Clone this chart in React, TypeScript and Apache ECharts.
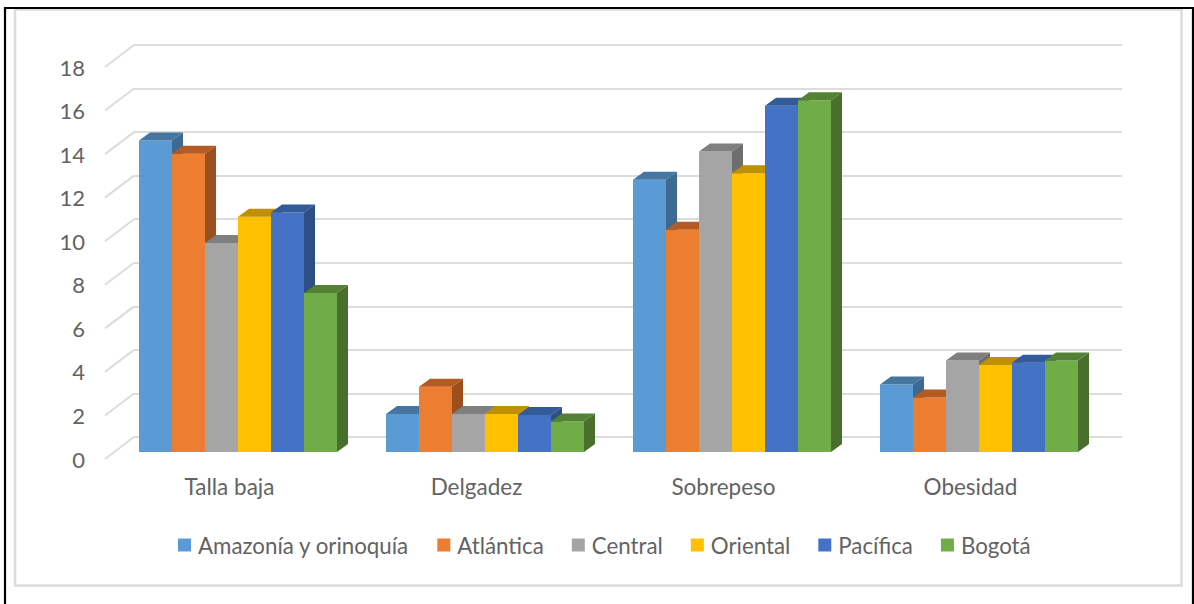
import React, { useEffect, useRef } from "react";
import * as echarts from "echarts";

const categories = ["Talla baja", "Delgadez", "Sobrepeso", "Obesidad"];
const amazonia = [14.3, 1.75, 12.5, 3.1];
const atlantica = [13.7, 3.0, 10.2, 2.5];
const central = [9.6, 1.75, 13.8, 4.2];
const oriental = [10.8, 1.75, 12.8, 4.0];
const pacifica = [11.0, 1.7, 15.9, 4.1];
const bogota = [7.3, 1.4, 16.15, 4.2];
const seriesNames = ["Amazonía y orinoquía", "Atlántica", "Central", "Oriental", "Pacífica", "Bogotá"];
const seriesValues = [amazonia, atlantica, central, oriental, pacifica, bogota];
const yTicks = [0, 2, 4, 6, 8, 10, 12, 14, 16, 18];

const frontColors = ["#5B9BD5", "#ED7D31", "#A5A5A5", "#FFC000", "#4472C4", "#70AD47"];
const topColors = ["#4675A0", "#B55A20", "#7F7F7F", "#BF9000", "#335A99", "#548235"];
const sideColors = ["#3D6A91", "#9A4F1C", "#6E6E6E", "#A67C00", "#2D4F85", "#4A6E2C"];

const BAR_W = 33;
const DEPTH_X = 11;
const DEPTH_Y = 8;
const FONT = "Lato, 'Open Sans', sans-serif";
const TEXT = "#636363";
const GRID = "#DCDCDC";

export default function App() {
  const ref = useRef<HTMLDivElement>(null);
  useEffect(() => {
    const chart = echarts.init(ref.current!, undefined, { renderer: "svg" });
    const barSeries = seriesNames.map((name, si) => ({
      type: "custom",
      name,
      xAxisIndex: 0,
      yAxisIndex: 0,
      z: 5 + si,
      itemStyle: { color: frontColors[si] },
      data: seriesValues[si].map((v, ci) => [ci, v]),
      encode: { x: 0, y: 1 },
      renderItem: (_: any, api: any) => {
        const [cx, top] = api.coord([api.value(0), api.value(1)]);
        const [, base] = api.coord([api.value(0), 0]);
        const x = cx + (si - 3) * BAR_W;
        const r = x + BAR_W;
        return {
          type: "group",
          children: [
            { type: "rect", shape: { x, y: top, width: BAR_W, height: base - top }, style: { fill: frontColors[si] } },
            {
              type: "polygon",
              shape: { points: [[x, top], [x + DEPTH_X, top - DEPTH_Y], [r + DEPTH_X, top - DEPTH_Y], [r, top]] },
              style: { fill: topColors[si] },
            },
            {
              type: "polygon",
              shape: { points: [[r, top], [r + DEPTH_X, top - DEPTH_Y], [r + DEPTH_X, base - DEPTH_Y], [r, base]] },
              style: { fill: sideColors[si] },
            },
          ],
        };
      },
    }));

    chart.setOption({
      animation: false,
      backgroundColor: "#FFFFFF",
      textStyle: { fontFamily: FONT },
      grid: [
        { left: 114.5, width: 988, top: 60, height: 392 },
        { left: 134, width: 988, top: 45, height: 392 },
        { left: 105, width: 100, top: 67, height: 392 },
      ],
      xAxis: [
        {
          gridIndex: 0,
          type: "category",
          data: categories,
          axisLine: { show: false },
          axisTick: { show: false },
          axisLabel: { color: TEXT, fontSize: 22.5, fontFamily: FONT, margin: 23, padding: [0, 17, 0, 0] },
        },
        { gridIndex: 1, type: "category", data: categories, show: false },
        { gridIndex: 2, type: "value", min: 0, max: 1, show: false },
      ],
      yAxis: [
        { gridIndex: 0, type: "value", min: 0, max: 18, interval: 2, show: false },
        {
          gridIndex: 1,
          type: "value",
          min: 0,
          max: 18,
          interval: 2,
          axisLine: { show: false },
          axisTick: { show: false },
          axisLabel: { show: false },
          splitLine: { show: true, lineStyle: { color: GRID, width: 2 } },
        },
        {
          gridIndex: 2,
          type: "value",
          min: 0,
          max: 18,
          interval: 2,
          axisLine: { show: false },
          axisTick: { show: false },
          splitLine: { show: false },
          axisLabel: { color: TEXT, fontSize: 22, fontFamily: FONT, margin: 20 },
        },
      ],
      legend: {
        data: seriesNames,
        left: 173,
        top: 529,
        icon: "rect",
        itemWidth: 13,
        itemHeight: 13,
        itemGap: 28,
        textStyle: { color: TEXT, fontSize: 22.3, fontFamily: FONT, padding: [0, 0, 0, 2] },
      },
      series: [
        {
          type: "custom",
          name: "diagonals",
          xAxisIndex: 2,
          yAxisIndex: 2,
          z: 1,
          silent: true,
          data: yTicks.map((t) => [0, t]),
          encode: { x: 0, y: 1 },
          renderItem: (_: any, api: any) => {
            const [x, y] = api.coord([api.value(0), api.value(1)]);
            return {
              type: "line",
              shape: { x1: x, y1: y, x2: x + 29, y2: y - 22 },
              style: { stroke: GRID, lineWidth: 2, fill: "none" },
            };
          },
        },
        ...barSeries,
      ],
      graphic: [
        {
          type: "rect",
          silent: true,
          shape: { x: 15, y: 9.5, width: 1166.5, height: 576 },
          style: { fill: "none", stroke: GRID, lineWidth: 2.5 },
        },
        {
          type: "polyline",
          silent: true,
          shape: { points: [[5, 604], [5, 8], [1193, 8], [1193, 604]] },
          style: { fill: "none", stroke: "#000000", lineWidth: 2.2 },
        },
      ],
    });
    return () => chart.dispose();
  }, []);
  return <div ref={ref} style={{ position: "fixed", left: 0, top: 0, width: 1194, height: 604 }} />;
}
